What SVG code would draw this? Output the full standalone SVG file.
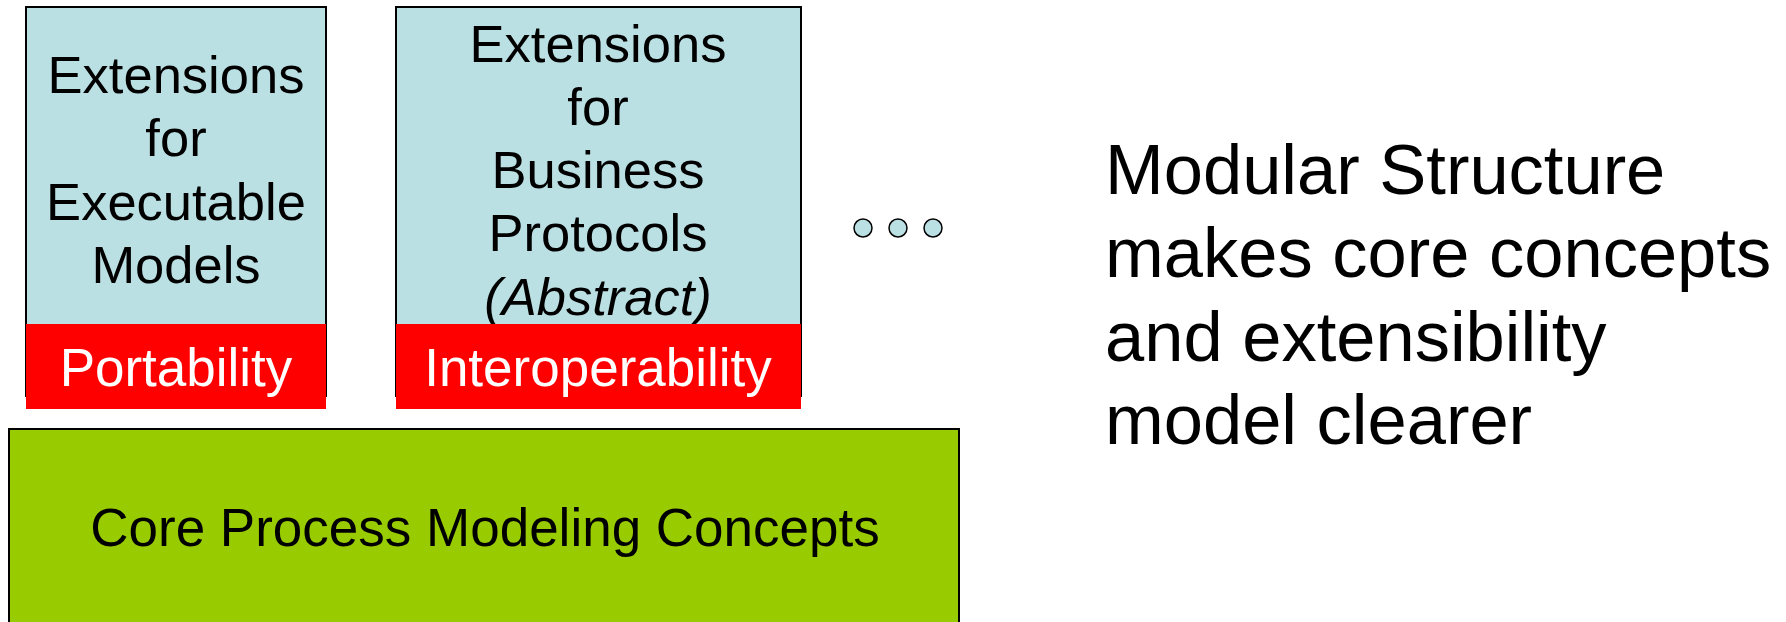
<svg xmlns="http://www.w3.org/2000/svg" width="1786" height="622" viewBox="0 0 1786 622">
<style>
.t{font-family:"Liberation Sans",Arial,sans-serif;text-anchor:middle;fill:#000}
.box{fill:#BBE0E3;stroke:#000;stroke-width:2}
.band{fill:#FF0000}
.w{fill:#FFFFFF}
</style>
<rect width="1786" height="622" fill="#FFFFFF"/>
<g id="ext-exec">
<rect class="box" x="26" y="7" width="300" height="389"/>
<text class="t" font-size="52.5" x="176" y="93">Extensions</text>
<text class="t" font-size="52.5" x="176" y="156">for</text>
<text class="t" font-size="52.5" x="176" y="220">Executable</text>
<text class="t" font-size="52.5" x="176" y="283">Models</text>
<rect class="band" x="26" y="324" width="300" height="85"/>
<text class="t w" font-size="53" x="176" y="386">Portability</text>
</g>
<g id="ext-bp">
<rect class="box" x="396" y="7" width="405" height="389"/>
<text class="t" font-size="52.5" x="598" y="62">Extensions</text>
<text class="t" font-size="52.5" x="598" y="125">for</text>
<text class="t" font-size="52.5" x="598" y="188">Business</text>
<text class="t" font-size="52.5" x="598" y="251">Protocols</text>
<text class="t" font-size="52.5" x="598" y="315" font-style="italic">(Abstract)</text>
<rect class="band" x="396" y="324" width="405" height="85"/>
<text class="t w" font-size="53" x="598" y="386">Interoperability</text>
</g>
<g id="dots">
<circle cx="863" cy="228" r="9" fill="#BBE0E3" stroke="#000" stroke-width="1.5"/>
<circle cx="898" cy="228" r="9" fill="#BBE0E3" stroke="#000" stroke-width="1.5"/>
<circle cx="933" cy="228" r="9" fill="#BBE0E3" stroke="#000" stroke-width="1.5"/>
</g>
<g id="core">
<rect x="9" y="429" width="950" height="200" fill="#99CC00" stroke="#000" stroke-width="2"/>
<text class="t" font-size="53" x="485" y="546">Core Process Modeling Concepts</text>
</g>
<g id="note">
<text class="t" font-size="70.5" x="1105" y="194" style="text-anchor:start">Modular Structure</text>
<text class="t" font-size="70.5" x="1105" y="277" style="text-anchor:start">makes core concepts</text>
<text class="t" font-size="70.5" x="1105" y="361" style="text-anchor:start">and extensibility</text>
<text class="t" font-size="70.5" x="1105" y="444" style="text-anchor:start">model clearer</text>
</g>
<g id="connectors"></g>
</svg>
